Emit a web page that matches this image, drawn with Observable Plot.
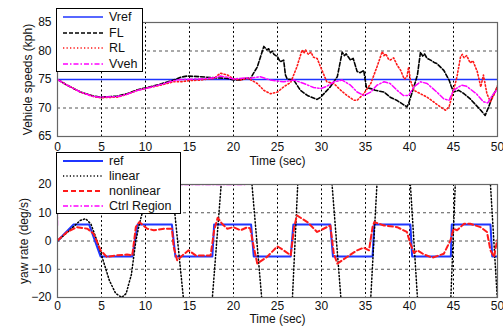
<!DOCTYPE html>
<html>
<head>
<meta charset="utf-8">
<script src="https://cdn.jsdelivr.net/npm/d3@7"></script>
<script src="https://cdn.jsdelivr.net/npm/@observablehq/plot@0.6"></script>
<style>
  html, body { margin: 0; padding: 0; background: #fff; }
  #wrap { position: relative; width: 503px; height: 326px; font-family: "Liberation Sans", Arial, sans-serif; }
  #wrap svg.plot { position: absolute; left: 0; }
  .legend { position: absolute; background: #fff; border: 1px solid #000; box-sizing: border-box; z-index: 5; font-size: 12.5px; color: #111; }
  .legend .row { position: absolute; left: 0; height: 15px; display: flex; align-items: center; }
  .legend .row svg { margin-left: 6px; margin-right: 6px; }
</style>
</head>
<body>
<div id="wrap"></div>
<script>
// ---------- shared ticks ----------
const timeTicks = [0, 5, 10, 15, 20, 25, 30, 35, 40, 45, 50];
const speedTicks = [65, 70, 75, 80, 85];
const yawTicks = [-20, -10, 0, 10, 20];

// ---------- top panel: vehicle speeds (kph) ----------
const vrefT = [0, 50];
const vrefV = [75, 75];

const flT = [0, 1.1, 2.6, 4.1, 4.9, 6.8, 7.9, 9.1, 10.2, 11.7, 13.2, 14.0, 14.7, 16.2, 17.8, 19.3, 20.0, 20.8, 21.6, 21.9,
  22.7, 23.45, 23.8, 24.0, 24.2, 24.4, 24.6, 25.0, 25.3, 25.7, 25.9, 26.1, 26.85, 27.6, 28.4, 29.5, 29.9, 31.0, 31.8,
  32.35, 32.6, 32.8, 33.3, 33.6, 34.05, 34.4, 34.8, 35.1, 35.6, 36.1, 37.1, 37.8, 38.6, 39.7, 39.9, 40.5, 40.9, 41.25,
  41.5, 41.7, 42.0, 42.4, 42.8, 43.1, 43.9, 44.5, 44.7, 45.0, 45.6, 46.2, 46.9, 48.1, 48.6, 49.0, 49.4, 50.0];
const flV = [75.0, 74.0, 72.8, 72.1, 71.9, 72.1, 72.5, 73.2, 73.6, 74.2, 74.9, 75.4, 75.6, 75.5, 75.3, 75.2, 74.9, 74.9, 75.3, 75.1,
  77.2, 80.8, 80.2, 80.4, 79.7, 80.0, 79.4, 79.0, 78.1, 78.4, 75.8, 75.1, 74.9, 73.1, 72.2, 71.5, 71.9, 73.7, 75.5,
  79.8, 79.2, 79.5, 78.4, 78.7, 76.4, 76.2, 76.6, 73.6, 73.4, 73.1, 72.8, 71.9, 71.3, 70.2, 70.8, 73.7, 75.8, 79.8,
  79.1, 79.5, 78.7, 78.4, 78.0, 77.8, 76.6, 74.9, 74.0, 72.8, 73.1, 72.5, 71.6, 69.6, 68.7, 70.2, 71.9, 73.7];

const rlT = [0, 1.1, 2.6, 4.1, 4.9, 6.8, 7.9, 9.1, 10.2, 11.7, 13.2, 14.0, 15.0, 16.2, 17.8, 18.5, 19.3, 20.0, 20.8, 21.6, 21.9,
  22.7, 23.45, 24.2, 25.0, 25.7, 26.5, 27.2, 27.8, 28.0, 28.2, 28.5, 28.8, 29.1, 29.5, 29.9, 30.6, 31.4, 32.2, 32.9, 33.7, 34.05,
  34.8, 35.6, 36.3, 36.9, 37.1, 37.3, 37.6, 37.8, 38.2, 38.6, 39.0, 39.4, 39.7, 39.9, 40.1, 40.5, 41.25, 42.0, 42.8, 43.5, 44.1, 44.5,
  45.0, 45.4, 45.8, 46.0, 46.2, 46.5, 46.9, 47.2, 47.7, 48.1, 48.4, 48.8, 49.2, 49.6, 50.0];
const rlV = [75.0, 74.0, 72.8, 72.0, 71.8, 71.9, 72.4, 73.1, 73.5, 74.0, 74.6, 74.6, 74.8, 74.9, 75.2, 76.1, 75.8, 75.1, 74.9, 75.2, 75.0,
  74.3, 73.1, 72.5, 72.8, 73.7, 74.5, 77.2, 80.2, 79.6, 80.2, 79.4, 79.8, 78.9, 78.7, 77.2, 74.6, 74.3, 73.1, 72.2, 71.35, 71.35,
  72.5, 74.3, 77.2, 79.9, 79.2, 79.5, 78.6, 78.4, 78.8, 77.5, 76.6, 75.1, 75.4, 77.2, 74.9, 73.1, 72.5, 71.9, 71.0, 70.2, 69.6, 70.2,
  73.1, 75.5, 79.0, 79.4, 78.8, 79.2, 77.9, 78.3, 76.4, 73.7, 75.8, 72.5, 71.1, 72.3, 73.9];

const vvehT = [0, 1.1, 2.6, 4.1, 4.9, 6.8, 7.9, 9.1, 10.2, 11.7, 13.2, 14.0, 16.2, 17.8, 18.5, 19.3, 20.0, 21.6, 21.9,
  23.0, 24.2, 25.7, 26.85, 28.0, 29.1, 29.9, 30.6, 31.4, 32.35, 33.3, 34.05, 34.8, 35.6, 36.3, 37.1, 37.8, 38.6, 39.3, 39.9,
  40.5, 41.25, 42.0, 43.1, 43.9, 44.5, 45.0, 45.9, 46.5, 47.6, 48.4, 48.9, 49.4, 50.0];
const vvehV = [75.0, 74.0, 72.8, 72.0, 71.9, 72.0, 72.4, 73.1, 73.5, 74.1, 74.8, 75.0, 75.1, 75.3, 75.6, 75.4, 75.1, 75.3, 75.2,
  75.5, 74.9, 74.6, 74.9, 74.3, 73.6, 73.4, 73.8, 74.6, 74.9, 74.0, 72.8, 72.2, 72.8, 74.0, 74.6, 74.3, 73.1, 72.2, 72.2,
  73.7, 74.6, 74.3, 72.8, 71.6, 71.35, 73.1, 74.0, 73.8, 72.5, 71.1, 70.9, 72.2, 73.3];

// ---------- bottom panel: yaw rate (deg/s) ----------
const refT = [0, 1.8, 3.6, 4.9, 8.5, 9.1, 13.0, 13.4, 17.6, 17.8, 22.0, 22.3, 26.5, 26.8, 31.0, 31.3, 35.8, 36.0, 40.1, 40.3, 44.7, 44.8, 49.2, 49.4, 50.0];
const refV = [0, 5.8, 5.8, -5.5, -5.5, 5.8, 5.8, -5.5, -5.5, 5.8, 5.8, -5.5, -5.5, 5.8, 5.8, -5.5, -5.5, 5.8, 5.8, -5.5, -5.5, 5.8, 5.8, -5.5, -5.5];

const linT = [0, 1.1, 2.6, 3.2, 3.8, 4.5, 5.2, 5.9, 6.6, 7.3, 7.8, 8.4, 8.9, 9.3, 9.7, 10.5, 11.8, 13.0, 14.3, 16.0, 17.6, 18.6, 20.3,
  22.1, 23.2, 25.0, 26.7, 27.3, 29.3, 31.2, 32.2, 34.0, 35.6, 36.3, 38.2, 40.1, 40.9, 42.8, 44.7, 45.2, 47.2, 49.2, 49.97];
const linV = [0, 3, 7.3, 7.9, 6, 0, -7, -14, -18.5, -20, -18.6, -11.8, 0, 6, 10.8, 17, 35, 20, -20, -60, -20, 20, 60,
  20, -20, -70, -20, 20, 75, 20, -20, -80, -20, 20, 80, 20, -20, -85, -20, 20, 90, 20, -20];

const nlT = [0, 1.1, 2.2, 3.4, 4.1, 4.9, 5.6, 6.8, 7.9, 8.5, 8.9, 9.3, 10.2, 10.95, 12.1, 13.0, 13.2, 13.6, 14.2, 14.9, 15.7, 17.4,
  17.8, 18.2, 18.7, 19.3, 20.0, 20.8, 21.6, 21.9, 22.3, 22.7, 23.8, 25.0, 25.7, 26.5, 26.9, 27.2, 28.4, 29.5, 30.6, 31.0, 31.4,
  31.8, 32.9, 34.05, 34.8, 35.4, 35.8, 36.0, 37.1, 38.6, 39.7, 40.1, 40.5, 40.9, 41.6, 42.6, 43.9, 44.66, 45.0, 45.4, 46.2, 46.9,
  48.07, 48.8, 49.2, 49.6, 49.96];
const nlV = [0.2, 3.2, 4.9, 4.35, 2.6, -3.3, -5.65, -5.06, -4.8, -5.06, 4.9, 6.7, 4.35, 3.8, 4.35, 4.35, -2.1, -6.8, -5.1, -3.3, -5.1, -5.1,
  3.8, 8.2, 6.1, 4.35, 4.9, 3.8, 4.9, 4.35, -2.1, -8.0, -5.65, -1.9, -3.3, -5.06, 4.9, 9.06, 6.7, 3.2, 4.9, 5.5, -4.5,
  -8.0, -5.65, -3.3, -2.35, -3.3, 4.9, 6.7, 5.5, 4.9, 3.2, -0.9, -4.2, -3.3, -4.7, -5.9, -4.5, 0.24, 4.35, 3.8, 6.1, 6.1,
  4.9, 3.2, -3.3, -5.65, 0.24];

const ctrlT = [0, 0, 21.3];
const ctrlV = [5.5, 20, 20];

// ---------- legends ----------
const topLegend = ["Vref", "FL", "RL", "Vveh"];
const bottomLegend = ["ref", "linear", "nonlinear", "Ctrl Region"];

// ---------- styles ----------
const S = {
  vref: {stroke: "#1f35ff", strokeWidth: 1.5},
  fl: {stroke: "#000", strokeWidth: 1.6, strokeDasharray: "4,2"},
  rl: {stroke: "#ff1a1a", strokeWidth: 1.6, strokeDasharray: "1.3,2.2"},
  vveh: {stroke: "#ff00ff", strokeWidth: 1.5, strokeDasharray: "5,2,1.5,2"},
  ref: {stroke: "#1f35ff", strokeWidth: 2},
  lin: {stroke: "#000", strokeWidth: 1.5, strokeDasharray: "1.2,2.2"},
  nl: {stroke: "#ff1a1a", strokeWidth: 2, strokeDasharray: "5,3"},
  ctrl: {stroke: "#ff00ff", strokeWidth: 1.3, strokeDasharray: "5,2,1.5,2"}
};

const rows = (ts, vs) => ts.map((t, i) => ({t, v: vs[i]}));
const font = {fontFamily: "'Liberation Sans', Arial, sans-serif", fontSize: "12px", color: "#111", background: "transparent", overflow: "visible"};

function gridMarks(xTicks, yTicks) {
  return [
    Plot.ruleY(yTicks.slice(1, -1), {stroke: "#555", strokeWidth: 1, strokeDasharray: "3,3"}),
    Plot.ruleX(xTicks.slice(1, -1), {stroke: "#000", strokeWidth: 1, strokeDasharray: "2,2.5"})
  ];
}

const line = (data, style) => Plot.line(data, {x: "t", y: "v", clip: true, ...style});

const topPlot = Plot.plot({
  width: 503, height: 170,
  marginLeft: 57, marginRight: 6, marginTop: 22, marginBottom: 34,
  style: font,
  x: {domain: [0, 50], ticks: timeTicks, tickSize: 0, tickPadding: 6, label: "Time (sec)", labelAnchor: "center", labelArrow: "none", labelOffset: 28},
  y: {domain: [65, 85], ticks: speedTicks, tickSize: 0, tickPadding: 6, label: "Vehicle speeds (kph)", labelAnchor: "center", labelArrow: "none", labelOffset: 34},
  marks: [
    ...gridMarks(timeTicks, speedTicks),
    line(rows(vrefT, vrefV), S.vref),
    line(rows(flT, flV), S.fl),
    line(rows(rlT, rlV), S.rl),
    line(rows(vvehT, vvehV), S.vveh),
    Plot.frame({stroke: "#666", strokeWidth: 1.2})
  ]
});

const bottomPlot = Plot.plot({
  width: 503, height: 156,
  marginLeft: 57, marginRight: 6, marginTop: 14, marginBottom: 29,
  style: font,
  x: {domain: [0, 50], ticks: timeTicks, tickSize: 0, tickPadding: 4, label: "Time (sec)", labelAnchor: "center", labelArrow: "none", labelOffset: 25},
  y: {domain: [-20, 20], ticks: yawTicks, tickSize: 0, tickPadding: 6, label: "yaw rate (deg/s)", labelAnchor: "center", labelArrow: "none", labelOffset: 38},
  marks: [
    ...gridMarks(timeTicks, yawTicks),
    line(rows(ctrlT, ctrlV), S.ctrl),
    line(rows(refT, refV), S.ref),
    line(rows(linT, linV), S.lin),
    line(rows(nlT, nlV), S.nl),
    Plot.frame({stroke: "#666", strokeWidth: 1.2})
  ]
});

const wrap = document.getElementById("wrap");
topPlot.classList.add("plot"); bottomPlot.classList.add("plot");
topPlot.style.top = "0px"; bottomPlot.style.top = "170px";
wrap.appendChild(topPlot); wrap.appendChild(bottomPlot);

function makeLegend(labels, styles, box, rowYs) {
  const div = document.createElement("div");
  div.className = "legend";
  Object.assign(div.style, {left: box.x + "px", top: box.y + "px", width: box.w + "px", height: box.h + "px"});
  labels.forEach((lab, i) => {
    const st = styles[i];
    const row = document.createElement("div");
    row.className = "row";
    row.style.top = (rowYs[i] - box.y - 7.5 - 1) + "px";
    const ns = "http://www.w3.org/2000/svg";
    const sv = document.createElementNS(ns, "svg");
    sv.setAttribute("width", 40); sv.setAttribute("height", 10);
    const ln = document.createElementNS(ns, "line");
    ln.setAttribute("x1", 0); ln.setAttribute("x2", 40); ln.setAttribute("y1", 5); ln.setAttribute("y2", 5);
    ln.setAttribute("stroke", st.stroke);
    ln.setAttribute("stroke-width", st.strokeWidth);
    if (st.strokeDasharray) ln.setAttribute("stroke-dasharray", st.strokeDasharray);
    sv.appendChild(ln);
    const tx = document.createElement("span");
    tx.textContent = lab;
    row.appendChild(sv); row.appendChild(tx);
    div.appendChild(row);
  });
  wrap.appendChild(div);
}

makeLegend(topLegend, [S.vref, S.fl, S.rl, S.vveh], {x: 56, y: 8, w: 87, h: 64}, [17, 32.5, 48, 63.5]);
makeLegend(bottomLegend, [S.ref, S.lin, S.nl, S.ctrl], {x: 56, y: 152, w: 125, h: 62}, [161, 175.5, 191, 206]);
</script>
</body>
</html>
